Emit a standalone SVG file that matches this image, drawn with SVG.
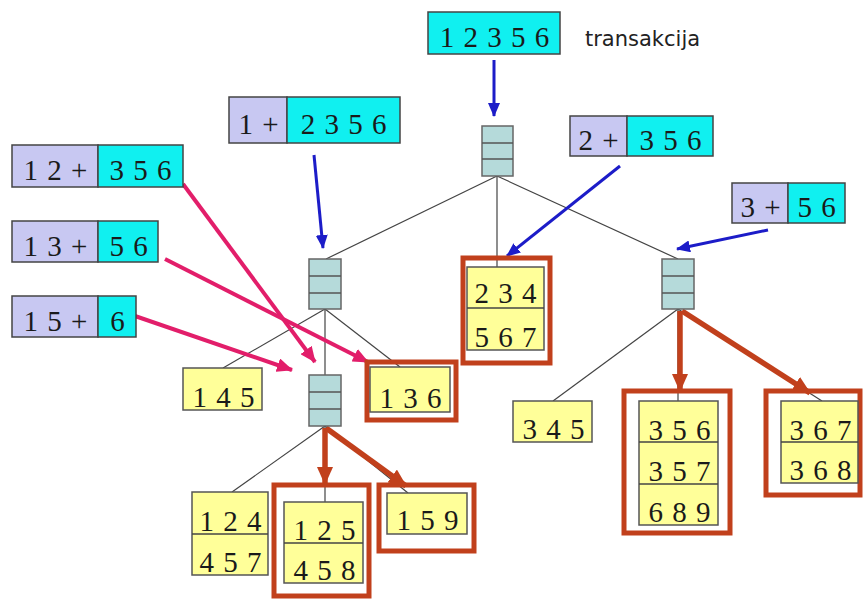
<svg xmlns="http://www.w3.org/2000/svg" width="863" height="599" viewBox="0 0 863 599">
  <style>
    .num { font-family: "Liberation Serif", "DejaVu Serif", serif; font-size: 29px; fill: #1a1a1a; text-anchor: middle; letter-spacing: 1px; }
    .lbl { font-family: "DejaVu Sans", Verdana, sans-serif; font-size: 21px; fill: #222; }
    .pre { fill: #c8c8f2; stroke: #444; stroke-width: 1.5; }
    .rest { fill: #10f0f0; stroke: #444; stroke-width: 1.5; }
    .leaf { fill: #ffff99; stroke: #555; stroke-width: 1.5; }
    .sep { stroke: #444; stroke-width: 1.5; }
    .hash rect { fill: #b5dada; stroke: #666; stroke-width: 1.5; }
    .hash line { stroke: #555; stroke-width: 1.5; }
    .hit { fill: none; stroke: #c1401c; stroke-width: 5; }
    .edge { stroke: #444; stroke-width: 1.2; fill: none; }
    .blue { stroke: #1c1cc8; stroke-width: 3; fill: none; }
    .pink { stroke: #e21e6a; stroke-width: 4; fill: none; }
    .red { stroke: #c1401c; stroke-width: 5.5; fill: none; }
  </style>
  <defs>
    <marker id="ahBlue" markerUnits="userSpaceOnUse" markerWidth="14" markerHeight="12" refX="13" refY="6" orient="auto">
      <path d="M0,0 L14,6 L0,12 Z" fill="#1c1cc8"/>
    </marker>
    <marker id="ahPink" markerUnits="userSpaceOnUse" markerWidth="16" markerHeight="14" refX="15" refY="7" orient="auto">
      <path d="M0,0 L16,7 L0,14 Z" fill="#e21e6a"/>
    </marker>
    <marker id="ahRed" markerUnits="userSpaceOnUse" markerWidth="18" markerHeight="16" refX="17" refY="8" orient="auto">
      <path d="M0,0 L18,8 L0,16 Z" fill="#c1401c"/>
    </marker>
  </defs>

  <!-- tree edges and traversal arrows -->
  <g id="connectors">
    <line class="edge" x1="497" y1="176" x2="326" y2="259"/>
    <line class="edge" x1="497" y1="176" x2="497" y2="267"/>
    <line class="edge" x1="497" y1="176" x2="678" y2="259"/>
    <line class="edge" x1="325" y1="309" x2="223" y2="368"/>
    <line class="edge" x1="325" y1="309" x2="325" y2="375"/>
    <line class="edge" x1="325" y1="309" x2="400" y2="367"/>
    <line class="edge" x1="325" y1="426" x2="232" y2="492"/>
    <line class="edge" x1="325" y1="426" x2="325" y2="502"/>
    <line class="edge" x1="325" y1="426" x2="408" y2="493"/>
    <line class="edge" x1="678" y1="309" x2="553" y2="401"/>
    <line class="edge" x1="678" y1="309" x2="678" y2="401"/>
    <line class="edge" x1="678" y1="309" x2="822" y2="401"/>

    <line class="blue" x1="494" y1="60" x2="494" y2="116" marker-end="url(#ahBlue)"/>
    <line class="blue" x1="314" y1="155" x2="323" y2="248" marker-end="url(#ahBlue)"/>
    <line class="blue" x1="620" y1="166" x2="507" y2="256" marker-end="url(#ahBlue)"/>
    <line class="blue" x1="768" y1="230" x2="677" y2="249" marker-end="url(#ahBlue)"/>

    <line class="pink" x1="183" y1="184" x2="315" y2="362" marker-end="url(#ahPink)"/>
    <line class="pink" x1="165" y1="259" x2="368" y2="362" marker-end="url(#ahPink)"/>
    <line class="pink" x1="135" y1="316" x2="292" y2="370" marker-end="url(#ahPink)"/>

    <line class="red" x1="325" y1="428" x2="325" y2="484" marker-end="url(#ahRed)"/>
    <line class="red" x1="326" y1="428" x2="406" y2="486" marker-end="url(#ahRed)"/>
    <line class="red" x1="680" y1="311" x2="680" y2="391" marker-end="url(#ahRed)"/>
    <line class="red" x1="682" y1="311" x2="810" y2="393" marker-end="url(#ahRed)"/>
  </g>

  <!-- transaction and its prefix splits -->
  <g id="transaction">
    <rect class="rest" x="428" y="12" width="132" height="42"/>
    <text class="num" x="495" y="47">1 2 3 5 6</text>
    <text class="lbl" x="585" y="46">transakcija</text>
  </g>
  <g id="split-1">
    <rect class="pre" x="229" y="97" width="58" height="46"/>
    <rect class="rest" x="287" y="97" width="113" height="46"/>
    <text class="num" x="259" y="134">1 +</text>
    <text class="num" x="344" y="134">2 3 5 6</text>
  </g>
  <g id="split-2">
    <rect class="pre" x="570" y="116" width="57" height="40"/>
    <rect class="rest" x="627" y="116" width="86" height="40"/>
    <text class="num" x="599" y="150">2 +</text>
    <text class="num" x="671" y="150">3 5 6</text>
  </g>
  <g id="split-3">
    <rect class="pre" x="732" y="183" width="56" height="40"/>
    <rect class="rest" x="788" y="183" width="57" height="40"/>
    <text class="num" x="761" y="217">3 +</text>
    <text class="num" x="817" y="217">5 6</text>
  </g>
  <g id="split-12">
    <rect class="pre" x="12" y="145" width="86" height="42"/>
    <rect class="rest" x="98" y="145" width="85" height="42"/>
    <text class="num" x="56" y="180">1 2 +</text>
    <text class="num" x="141" y="180">3 5 6</text>
  </g>
  <g id="split-13">
    <rect class="pre" x="12" y="221" width="86" height="41"/>
    <rect class="rest" x="98" y="221" width="60" height="41"/>
    <text class="num" x="56" y="256">1 3 +</text>
    <text class="num" x="129" y="256">5 6</text>
  </g>
  <g id="split-15">
    <rect class="pre" x="12" y="296" width="86" height="41"/>
    <rect class="rest" x="98" y="296" width="38" height="41"/>
    <text class="num" x="56" y="331">1 5 +</text>
    <text class="num" x="118" y="331">6</text>
  </g>

  <!-- interior hash nodes -->
  <g id="hash-root" class="hash" transform="translate(482,126)">
    <rect width="31" height="50"/><line x1="0" y1="17" x2="31" y2="17"/><line x1="0" y1="33" x2="31" y2="33"/>
  </g>
  <g id="hash-left" class="hash" transform="translate(309,259)">
    <rect width="32" height="50"/><line x1="0" y1="17" x2="32" y2="17"/><line x1="0" y1="34" x2="32" y2="34"/>
  </g>
  <g id="hash-left-mid" class="hash" transform="translate(309,375)">
    <rect width="32" height="51"/><line x1="0" y1="17" x2="32" y2="17"/><line x1="0" y1="34" x2="32" y2="34"/>
  </g>
  <g id="hash-right" class="hash" transform="translate(662,259)">
    <rect width="32" height="50"/><line x1="0" y1="17" x2="32" y2="17"/><line x1="0" y1="34" x2="32" y2="34"/>
  </g>

  <!-- leaves -->
  <g id="leaf-234">
    <rect class="hit" x="463" y="258" width="87" height="105"/>
    <rect class="leaf" x="467" y="267" width="77" height="83"/>
    <line class="sep" x1="467" y1="308" x2="544" y2="308"/>
    <text class="num" x="506" y="303">2 3 4</text>
    <text class="num" x="506" y="347">5 6 7</text>
  </g>
  <g id="leaf-145">
    <rect class="leaf" x="183" y="368" width="79" height="42"/>
    <text class="num" x="224" y="407">1 4 5</text>
  </g>
  <g id="leaf-136">
    <rect class="hit" x="367" y="362" width="89" height="58"/>
    <rect class="leaf" x="370" y="367" width="80" height="45"/>
    <text class="num" x="411" y="408">1 3 6</text>
  </g>
  <g id="leaf-124">
    <rect class="leaf" x="192" y="492" width="76" height="83"/>
    <line class="sep" x1="192" y1="534" x2="268" y2="534"/>
    <text class="num" x="231" y="531">1 2 4</text>
    <text class="num" x="231" y="572">4 5 7</text>
  </g>
  <g id="leaf-125">
    <rect class="hit" x="274" y="485" width="95" height="111"/>
    <rect class="leaf" x="284" y="502" width="79" height="81"/>
    <line class="sep" x1="284" y1="543" x2="363" y2="543"/>
    <text class="num" x="325" y="540">1 2 5</text>
    <text class="num" x="325" y="580">4 5 8</text>
  </g>
  <g id="leaf-159">
    <rect class="hit" x="379" y="485" width="95" height="66"/>
    <rect class="leaf" x="387" y="493" width="80" height="41"/>
    <text class="num" x="428" y="530">1 5 9</text>
  </g>
  <g id="leaf-345">
    <rect class="leaf" x="513" y="401" width="79" height="41"/>
    <text class="num" x="554" y="439">3 4 5</text>
  </g>
  <g id="leaf-356">
    <rect class="hit" x="624" y="391" width="106" height="142"/>
    <rect class="leaf" x="639" y="401" width="79" height="124"/>
    <line class="sep" x1="639" y1="442" x2="718" y2="442"/>
    <line class="sep" x1="639" y1="484" x2="718" y2="484"/>
    <text class="num" x="680" y="440">3 5 6</text>
    <text class="num" x="680" y="481">3 5 7</text>
    <text class="num" x="680" y="522">6 8 9</text>
  </g>
  <g id="leaf-367">
    <rect class="hit" x="766" y="391" width="94" height="104"/>
    <rect class="leaf" x="781" y="401" width="77" height="82"/>
    <line class="sep" x1="781" y1="442" x2="858" y2="442"/>
    <text class="num" x="821" y="440">3 6 7</text>
    <text class="num" x="821" y="480">3 6 8</text>
  </g>
</svg>
